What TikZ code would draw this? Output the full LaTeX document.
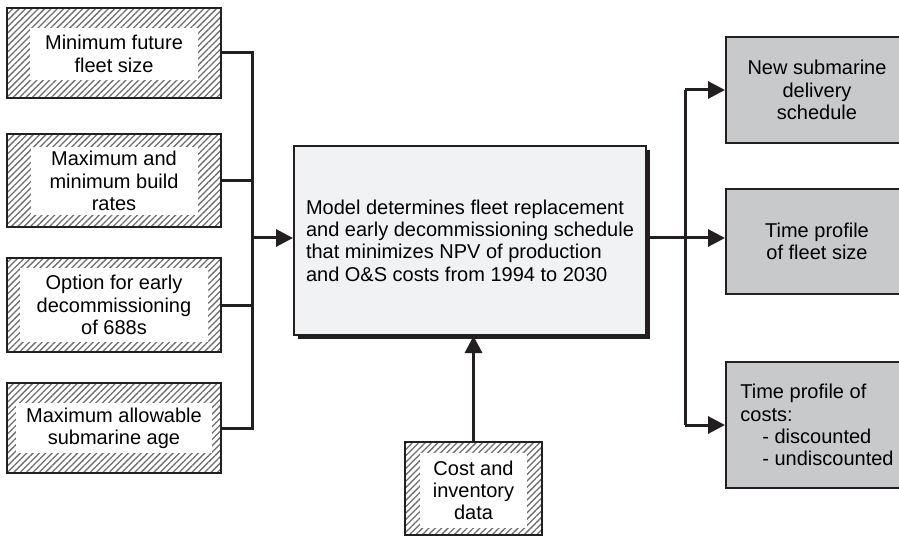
\documentclass[tikz,border=0pt]{standalone}
\usepackage{fontspec}
\setmainfont{Liberation Sans}
\usetikzlibrary{arrows.meta,patterns.meta,shadows}
\definecolor{ink}{HTML}{231F20}
\definecolor{modelgray}{HTML}{F1F2F4}
\definecolor{outgray}{HTML}{C8C9CB}
\definecolor{hatchgray}{HTML}{6D6E70}

\begin{document}
\begin{tikzpicture}[x=1pt,y=-1pt]\tikzstyle{every node} = [align=center, inner sep=0pt, font=\fontsize{20}{22.3}\selectfont]
    \tikzstyle{hatchbox} = [draw=ink, line width=2pt, pattern={Lines[angle=45,distance=4.5pt,line width=1.3pt]}, pattern color=hatchgray]
    \tikzstyle{textbg} = [fill=white]
    \tikzstyle{modelbox} = [draw=ink, line width=2pt, fill=modelgray, align=left, drop shadow={shadow xshift=4pt, shadow yshift=-4pt, fill=ink, opacity=1}]
    \tikzstyle{outbox} = [draw=ink, line width=2pt, fill=outgray, minimum width=182pt]
    \tikzstyle{link} = [draw=ink, line width=3pt]
    \tikzstyle{arrow} = [link, -{Triangle[length=17pt,width=17pt]}]

    \clip (0,0) rectangle (899,537);

    % inputs
    \node[hatchbox, minimum width=214pt, minimum height=90pt] (fleet) at (114,53) {};
    \node[textbg, minimum width=168pt, minimum height=52pt] at (114,54) {Minimum future\\fleet size};

    \node[hatchbox, minimum width=214pt, minimum height=93pt] (rates) at (114,180.5) {};
    \node[textbg, minimum width=167pt, minimum height=68pt] at (114,181) {Maximum and\\minimum build\\rates};

    \node[hatchbox, minimum width=214pt, minimum height=94pt] (early) at (114,305) {};
    \node[textbg, minimum width=188pt, minimum height=74pt] at (114,305) {Option for early\\decommissioning\\of 688s};

    \node[hatchbox, minimum width=214pt, minimum height=90pt] (age) at (114,428) {};
    \node[textbg, minimum width=196pt, minimum height=50pt] at (114,428) {Maximum allowable\\submarine age};

    \node[hatchbox, minimum width=137pt, minimum height=93pt] (data) at (473.5,488.5) {};
    \node[textbg, minimum width=107pt, minimum height=75pt] at (473.5,490.5) {Cost and\\inventory\\data};

    % model
    \node[modelbox, minimum width=352pt, minimum height=189pt] (model) at (470,240.5)
      {Model determines fleet replacement\\and early decommissioning schedule\\that minimizes NPV of production\\and O\&S costs from 1994 to 2030};

    % outputs
    \node[outbox, minimum height=106pt] (sched) at (817,90) {New submarine\\delivery\\schedule};
    \node[outbox, minimum height=105pt] (size) at (817,241.5) {Time profile\\of fleet size};
    \node[outbox, minimum height=126pt, align=left] (costs) at (817,425)
      {Time profile of\\costs:\\\hspace*{1.1em}- discounted\\\hspace*{1.1em}- undiscounted};

    \coordinate (lbus) at (252,238);
    \coordinate (rbus) at (685,238);

    \draw[link] (fleet.east) -| (lbus) |- (age.east);
    \draw[link] (rates.east) -- (rates.east -| lbus);
    \draw[link] (early.east) -- (early.east -| lbus);
    \draw[arrow] (lbus) -- (lbus -| model.west);

    \draw[arrow] (data.north) -- (data.north |- model.south);

    \draw[link] (rbus |- sched.west) -- (rbus |- costs.west);
    \draw[arrow] (rbus |- sched.west) -- (sched.west);
    \draw[arrow] (rbus |- costs.west) -- (costs.west);
    \draw[arrow] (model.east |- rbus) -- (rbus -| size.west);
  \end{tikzpicture}
\end{document}
